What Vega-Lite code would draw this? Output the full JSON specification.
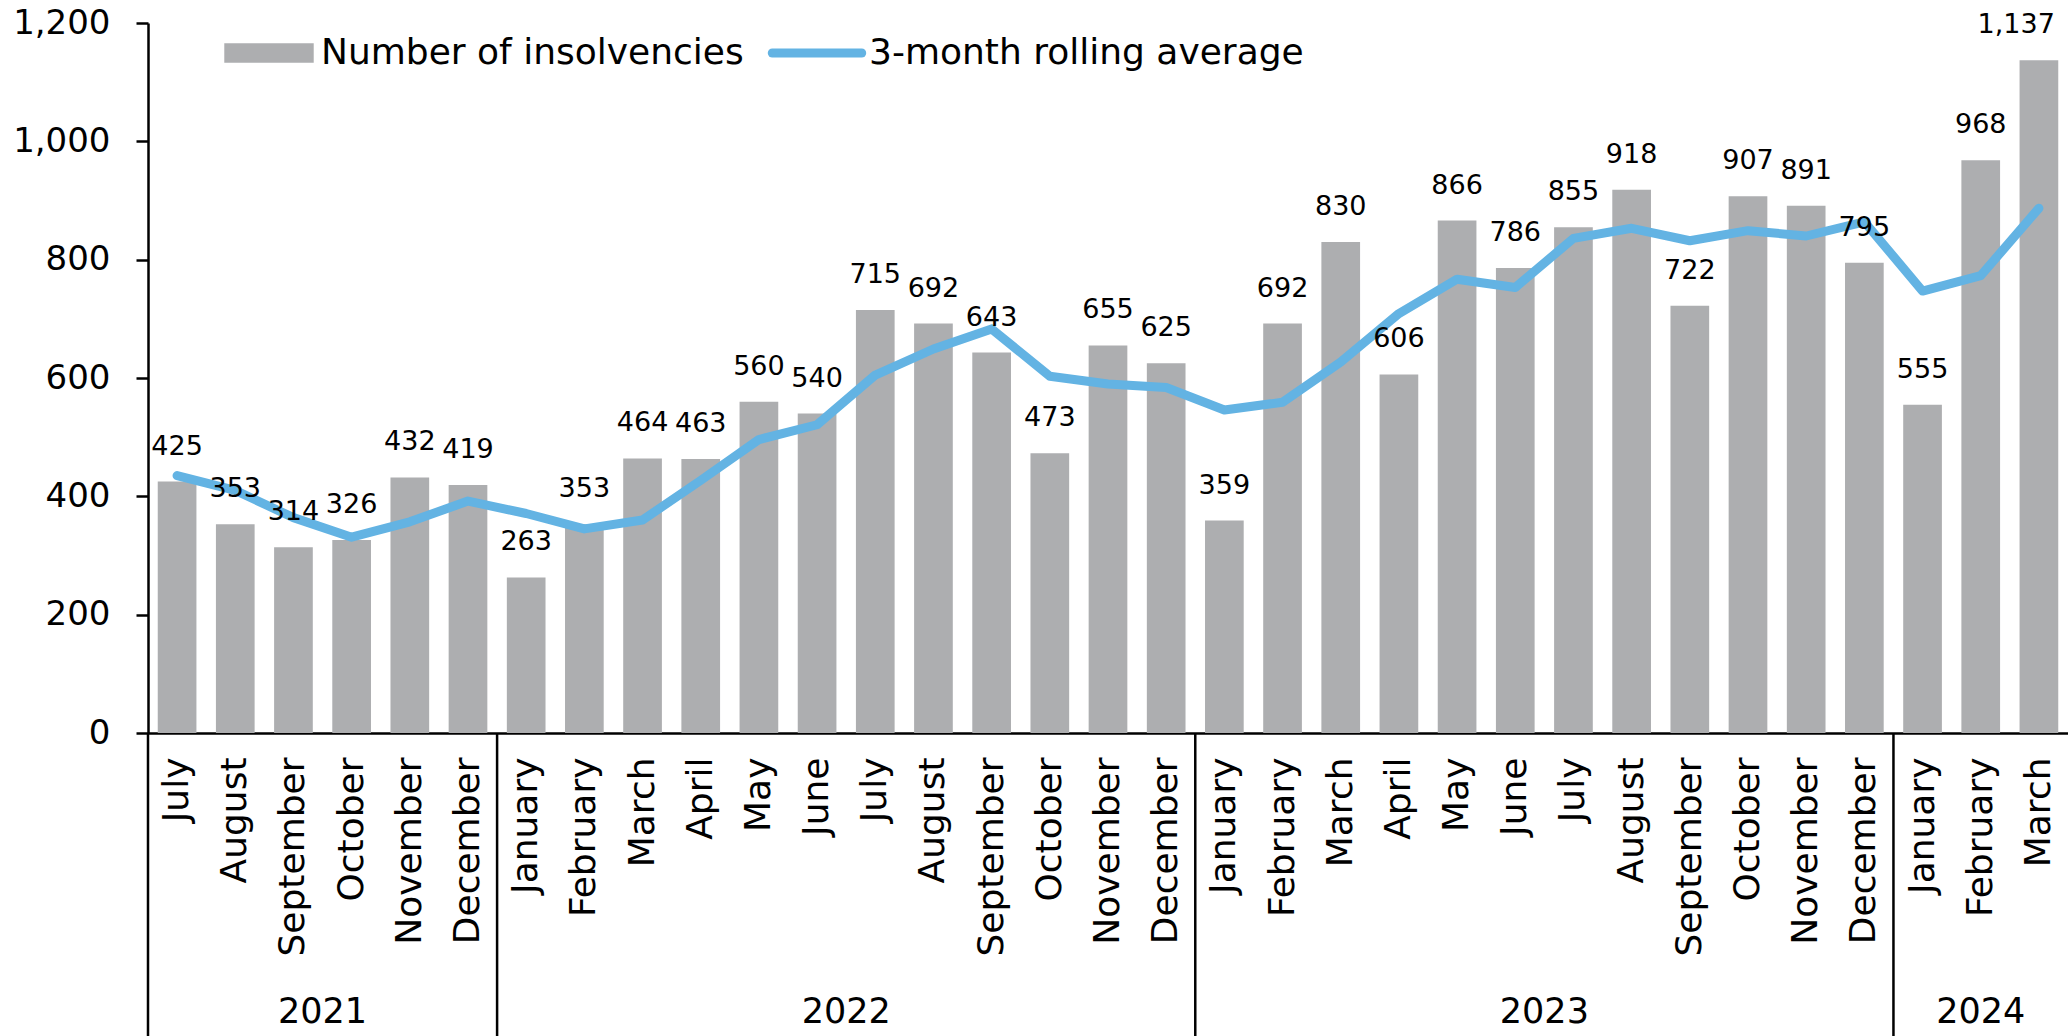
{
  "$schema": "https://vega.github.io/schema/vega-lite/v6.json",
  "width": 1920,
  "height": 710,
  "autosize": {"type": "none"},
  "padding": {"left": 148, "top": 23, "right": 0, "bottom": 303},
  "background": "white",
  "config": {"font": "DejaVu Sans", "view": {"stroke": null}, "axis": {"title": null, "grid": false}},
  "datasets": {
    "monthly": [
      {"month": "July 2021", "count": 425, "avg": 435},
      {"month": "August 2021", "count": 353, "avg": 410},
      {"month": "September 2021", "count": 314, "avg": 364},
      {"month": "October 2021", "count": 326, "avg": 331},
      {"month": "November 2021", "count": 432, "avg": 357},
      {"month": "December 2021", "count": 419, "avg": 392},
      {"month": "January 2022", "count": 263, "avg": 371},
      {"month": "February 2022", "count": 353, "avg": 345},
      {"month": "March 2022", "count": 464, "avg": 360},
      {"month": "April 2022", "count": 463, "avg": 427},
      {"month": "May 2022", "count": 560, "avg": 496},
      {"month": "June 2022", "count": 540, "avg": 521},
      {"month": "July 2022", "count": 715, "avg": 605},
      {"month": "August 2022", "count": 692, "avg": 649},
      {"month": "September 2022", "count": 643, "avg": 683},
      {"month": "October 2022", "count": 473, "avg": 603},
      {"month": "November 2022", "count": 655, "avg": 590},
      {"month": "December 2022", "count": 625, "avg": 584},
      {"month": "January 2023", "count": 359, "avg": 546},
      {"month": "February 2023", "count": 692, "avg": 559},
      {"month": "March 2023", "count": 830, "avg": 627},
      {"month": "April 2023", "count": 606, "avg": 709},
      {"month": "May 2023", "count": 866, "avg": 767},
      {"month": "June 2023", "count": 786, "avg": 753},
      {"month": "July 2023", "count": 855, "avg": 836},
      {"month": "August 2023", "count": 918, "avg": 853},
      {"month": "September 2023", "count": 722, "avg": 832},
      {"month": "October 2023", "count": 907, "avg": 849},
      {"month": "November 2023", "count": 891, "avg": 840},
      {"month": "December 2023", "count": 795, "avg": 864},
      {"month": "January 2024", "count": 555, "avg": 747},
      {"month": "February 2024", "count": 968, "avg": 773},
      {"month": "March 2024", "count": 1137, "avg": 887}
    ],
    "years": [
      {"year": "2021", "start": "July 2021", "mid": "October 2021", "centred": false},
      {"year": "2022", "start": "January 2022", "mid": "July 2022", "centred": false},
      {"year": "2023", "start": "January 2023", "mid": "July 2023", "centred": false},
      {"year": "2024", "start": "January 2024", "mid": "February 2024", "centred": true}
    ]
  },
  "layer": [
    {
      "data": {"name": "monthly"},
      "mark": {"type": "bar", "width": {"band": 0.665}},
      "encoding": {
        "x": {
          "field": "month",
          "type": "ordinal",
          "scale": {
            "domain": ["July 2021", "August 2021", "September 2021", "October 2021", "November 2021", "December 2021", "January 2022", "February 2022", "March 2022", "April 2022", "May 2022", "June 2022", "July 2022", "August 2022", "September 2022", "October 2022", "November 2022", "December 2022", "January 2023", "February 2023", "March 2023", "April 2023", "May 2023", "June 2023", "July 2023", "August 2023", "September 2023", "October 2023", "November 2023", "December 2023", "January 2024", "February 2024", "March 2024"],
            "paddingInner": 0,
            "paddingOuter": 0
          },
          "axis": {
            "title": null,
            "labelAngle": -90,
            "labelFontSize": 36,
            "labelColor": "black",
            "labelPadding": 24,
            "labelLimit": 0,
            "labelOverlap": false,
            "ticks": false,
            "domainColor": "black",
            "domainWidth": 2.5,
            "labelExpr": "split(datum.label, ' ')[0]"
          }
        },
        "y": {
          "field": "count",
          "type": "quantitative",
          "scale": {"domain": [0, 1200], "nice": false, "zero": true},
          "axis": {
            "title": null,
            "values": [0, 200, 400, 600, 800, 1000, 1200],
            "labelExpr": "format(datum.value, ',')",
            "labelFontSize": 34,
            "labelColor": "black",
            "labelPadding": 26,
            "tickColor": "black",
            "tickSize": 12,
            "tickWidth": 2.5,
            "domainColor": "black",
            "domainWidth": 2.5,
            "grid": false
          }
        },
        "color": {
          "datum": "Number of insolvencies",
          "scale": {"domain": ["Number of insolvencies", "3-month rolling average"], "range": ["#ADAEB0", "#63B3E3"]},
          "legend": {
            "title": null,
            "orient": "none",
            "legendX": 103,
            "legendY": 12,
            "direction": "horizontal",
            "labelFontSize": 36,
            "labelColor": "black",
            "labelFont": "DejaVu Sans",
            "labelLimit": 0,
            "labelOffset": 34,
            "columnPadding": 10,
            "symbolSize": 8000,
            "symbolType": "M-1,-0.22L1,-0.22L1,0.22L-1,0.22Z",
            "encode": {
              "symbols": {
                "update": {
                  "shape": {"signal": "datum.value === '3-month rolling average' ? 'stroke' : 'M-1,-0.22L1,-0.22L1,0.22L-1,0.22Z'"},
                  "fill": {"signal": "datum.value === '3-month rolling average' ? 'transparent' : '#ADAEB0'"},
                  "stroke": {"signal": "datum.value === '3-month rolling average' ? '#63B3E3' : 'transparent'"},
                  "strokeWidth": {"signal": "datum.value === '3-month rolling average' ? 9 : 0"},
                  "strokeCap": {"value": "round"},
                  "opacity": {"value": 1}
                }
              }
            }
          }
        }
      }
    },
    {
      "data": {"name": "monthly"},
      "mark": {"type": "line", "strokeWidth": 9, "strokeCap": "round", "strokeJoin": "round"},
      "encoding": {
        "x": {"field": "month", "type": "ordinal"},
        "y": {"field": "avg", "type": "quantitative"},
        "color": {"datum": "3-month rolling average"}
      }
    },
    {
      "data": {"name": "monthly"},
      "transform": [{"filter": "datum.month !== 'March 2024'"}],
      "mark": {"type": "text", "fontSize": 27, "color": "black", "baseline": "middle", "align": "center", "dy": -35},
      "encoding": {
        "x": {"field": "month", "type": "ordinal"},
        "y": {"field": "count", "type": "quantitative"},
        "text": {"field": "count", "type": "quantitative", "format": ","}
      }
    },
    {
      "data": {"name": "monthly"},
      "transform": [{"filter": "datum.month === 'March 2024'"}],
      "mark": {"type": "text", "fontSize": 27, "color": "black", "baseline": "middle", "align": "right", "dx": 16, "dy": -35},
      "encoding": {
        "x": {"field": "month", "type": "ordinal"},
        "y": {"field": "count", "type": "quantitative"},
        "text": {"field": "count", "type": "quantitative", "format": ","}
      }
    },
    {
      "data": {"name": "years"},
      "mark": {"type": "rule", "color": "black", "strokeWidth": 2.5},
      "encoding": {
        "x": {"field": "start", "type": "ordinal", "bandPosition": 0},
        "y": {"datum": 0, "type": "quantitative"},
        "y2": {"datum": -520}
      }
    },
    {
      "data": {"name": "years"},
      "transform": [{"filter": "!datum.centred"}],
      "mark": {"type": "text", "fontSize": 35, "color": "black", "baseline": "middle", "align": "center"},
      "encoding": {
        "x": {"field": "mid", "type": "ordinal", "bandPosition": 0},
        "y": {"datum": -471, "type": "quantitative"},
        "text": {"field": "year"}
      }
    },
    {
      "data": {"name": "years"},
      "transform": [{"filter": "datum.centred"}],
      "mark": {"type": "text", "fontSize": 35, "color": "black", "baseline": "middle", "align": "center"},
      "encoding": {
        "x": {"field": "mid", "type": "ordinal"},
        "y": {"datum": -471, "type": "quantitative"},
        "text": {"field": "year"}
      }
    }
  ]
}
